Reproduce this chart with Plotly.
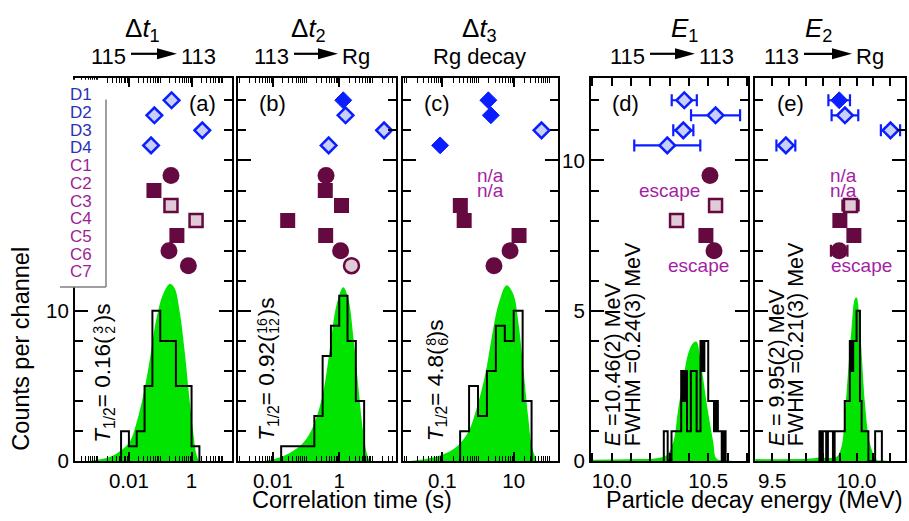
import math
import plotly.graph_objects as go

W, H = 909, 521          # reference picture size (all pixel positions below are in these units)
H_PAGE = 530             # page height used by the viewer; layout fractions are taken from H
FONT = "Liberation Sans, Arial, sans-serif"
BLUE = "#0a1eff"
BLUE_PAT = "#c8cff8"
MAROON = "#640a40"
MAROON_PAT = "#dfcad6"
GREEN = "#00e400"
LABEL_D = "#2a32b4"
LABEL_C = "#9b1e96"
NOTE = "#a41ea4"

# ---------------- data ----------------
chains = ["D1", "D2", "D3", "D4", "C1", "C2", "C3", "C4", "C5", "C6", "C7"]

# style codes: Dp patterned diamond, Ds solid diamond, Cc circle, Cs square,
# Csp patterned square, Ccp patterned circle, na -> "n/a" text, esc -> "escape" text
dt1_vals = [0.23, 0.065, 2.2, 0.051, 0.22, 0.063, 0.22, 1.39, 0.34, 0.19, 0.79]
dt1_sty = ["Dp", "Dp", "Dp", "Dp", "Cc", "Cs", "Csp", "Csp", "Cs", "Cc", "Cc"]

dt2_vals = [1.32, 1.55, 22.4, 0.48, 0.40, 0.38, 1.17, 0.028, 0.39, 1.10, 2.34]
dt2_sty = ["Ds", "Dp", "Dp", "Dp", "Cc", "Cs", "Cs", "Cs", "Cs", "Cc", "Ccp"]

dt3_vals = [1.95, 2.29, 60.0, 0.087, 2.29, 2.29, 0.32, 0.41, 14.1, 7.9, 2.8]
dt3_sty = ["Ds", "Ds", "Dp", "Ds", "na", "na", "Cs", "Cs", "Cs", "Cc", "Cc"]

e1_vals = [10.376, 10.538, 10.371, 10.288, 10.509, 10.30, 10.538, 10.336, 10.488, 10.53, 10.448]
e1_err = [0.065, 0.127, 0.052, 0.171, 0, 0, 0, 0, 0, 0, 0]
e1_sty = ["Dp", "Dp", "Dp", "Dp", "Cc", "esc", "Csp", "Csp", "Cs", "Cc", "esc"]

e2_vals = [9.897, 9.931, 10.201, 9.581, 9.925, 9.925, 9.964, 9.901, 9.984, 9.897, 10.03]
e2_err = [0.064, 0.079, 0.057, 0.056, 0, 0, 0.048, 0, 0, 0.049, 0]
e2_sty = ["Ds", "Dp", "Dp", "Dp", "na", "na", "Csp", "Cs", "Cs", "Cc", "esc"]

# correlation-time histograms (bin edges in log10 of seconds)
dt1_edges = [-2.25, -2.0, -1.75, -1.5, -1.25, -1.0, -0.75, -0.5, -0.25, 0.0, 0.25]
dt1_counts = [2, 1, 2, 5, 10, 8, 8, 5, 5, 1]
dt2_edges = [-1.75, -1.5, -1.25, -1.0, -0.75, -0.5, -0.25, 0.0, 0.25, 0.5, 0.75]
dt2_counts = [1, 1, 1, 1, 3, 7, 9, 11, 8, 4]
dt3_edges = [-0.5, -0.25, 0.0, 0.25, 0.5, 0.75, 1.0, 1.25, 1.5]
dt3_counts = [2, 5, 3, 6, 9, 8, 10, 4]

# fitted curves (log10 t, counts)
dt1_fit_x = [-3.30, -2.60, -2.25, -1.97, -1.75, -1.54, -1.33, -1.12, -0.91, -0.69, -0.54, -0.38, -0.22, -0.06, 0.05, 0.16, 0.24]
dt1_fit_y = [0.0, 0.29, 0.73, 1.3, 2.6, 4.4, 6.8, 9.5, 11.1, 11.8, 11.5, 9.96, 7.3, 4.0, 1.96, 0.4, 0.0]
dt2_fit_x = [-2.29, -1.73, -1.28, -0.98, -0.73, -0.48, -0.28, -0.08, 0.12, 0.27, 0.42, 0.57, 0.72, 0.82, 0.92]
dt2_fit_y = [0.0, 0.29, 0.84, 1.51, 2.62, 4.62, 7.51, 10.4, 11.56, 10.84, 8.4, 5.07, 1.96, 0.62, 0.0]
dt3_fit_x = [-1.95, -1.39, -0.92, -0.55, -0.27, -0.04, 0.20, 0.38, 0.57, 0.80, 0.99, 1.13, 1.27, 1.41, 1.50, 1.64]
dt3_fit_y = [0.0, 0.18, 0.51, 1.07, 1.96, 3.51, 5.73, 8.18, 10.4, 11.7, 11.1, 9.24, 6.13, 2.84, 1.07, 0.0]

# energy histograms, 10 keV channels
e1_start = 10.27
e1_counts = [1, 1, 0, 0, 1, 1, 1, 1, 1, 3, 2, 3, 1, 1, 3, 3, 3, 1, 1, 4, 3, 4, 4, 2, 2, 2, 1, 2, 1, 1, 0, 1]
e2_start = 9.78
e2_counts = [1, 0, 1, 1, 0, 1, 1, 1, 0, 1, 1, 1, 1, 1, 1, 2, 2, 2, 4, 3, 4, 4, 5, 5, 2, 1, 1, 1, 1, 0, 0, 0, 0, 1, 1, 1, 1]

e1_fit_x = [9.897, 10.129, 10.233, 10.285, 10.319, 10.345, 10.371, 10.397, 10.423, 10.440, 10.457, 10.474, 10.500, 10.526, 10.543, 10.595, 10.70]
e1_fit_y = [0.05, 0.07, 0.10, 0.20, 0.64, 1.75, 2.74, 3.60, 3.94, 3.97, 3.50, 2.74, 1.60, 0.64, 0.09, 0.02, 0.0]
e2_fit_x = [9.40, 9.704, 9.783, 9.881, 9.911, 9.931, 9.950, 9.970, 9.990, 10.000, 10.015, 10.030, 10.049, 10.069, 10.089, 10.118, 10.158, 10.20]
e2_fit_y = [0.07, 0.08, 0.12, 0.15, 0.50, 1.60, 3.00, 4.40, 5.40, 5.44, 4.90, 3.60, 1.96, 0.90, 0.40, 0.05, 0.02, 0.0]

# tick labels
time_labels = [{0.01: "0.01", 1: "1"}, {0.01: "0.01", 1: "1"}, {0.1: "0.1", 10: "10"}]
energy_labels = [{10.0: "10.0", 10.5: "10.5"}, {9.5: "9.5", 10.0: "10.0"}]

# ---------------- geometry ----------------
boxes = [(75, 232), (238, 396), (403, 558), (591, 748), (755, 905)]
Y_TOP, Y_BOT = 78, 463


def fx(px):
    return px / W


def fy(py):
    return 1 - py / H


fig = go.Figure()

STY = {
    "Dp": dict(symbol="diamond", size=12, color=BLUE_PAT, line=dict(color=BLUE, width=2.5)),
    "Ds": dict(symbol="diamond", size=13, color=BLUE, line=dict(color=BLUE, width=1)),
    "Cc": dict(symbol="circle", size=17, color=MAROON, line=dict(color=MAROON, width=0)),
    "Cs": dict(symbol="square", size=15, color=MAROON, line=dict(color=MAROON, width=0)),
    "Csp": dict(symbol="square", size=13, color=MAROON_PAT, line=dict(color=MAROON, width=2.5)),
    "Ccp": dict(symbol="circle", size=15, color=MAROON_PAT, line=dict(color=MAROON, width=2.5)),
}


def row_y(i, unit):
    base = 24 if unit == 1 else 12
    step = 1.0 if unit == 1 else 0.5
    k = i if i < 4 else i + 1
    return base - k * step


def add_events(vals, sty, err, xa, ya, unit, log):
    for code in STY:
        xs, ys, ex = [], [], []
        for i, (v, s) in enumerate(zip(vals, sty)):
            if s == code:
                xs.append(v)
                ys.append(row_y(i, unit))
                ex.append(err[i] if err else 0)
        if not xs:
            continue
        m = STY[code]
        tr = dict(x=xs, y=ys, mode="markers", xaxis=xa, yaxis=ya, showlegend=False,
                  marker=dict(symbol=m["symbol"], size=m["size"], color=m["color"], line=m["line"]))
        if err and any(e > 0 for e in ex):
            col = BLUE if code.startswith("D") else MAROON
            tr["error_x"] = dict(type="data", array=ex, visible=True, color=col, thickness=2.2, width=6)
        fig.add_trace(go.Scatter(**tr))
    for i, (v, s) in enumerate(zip(vals, sty)):
        if s in ("na", "esc"):
            fig.add_annotation(x=(math.log10(v) if log else v), y=row_y(i, unit), xref=xa, yref=ya,
                               text="n/a" if s == "na" else "escape", showarrow=False,
                               font=dict(size=19, color=NOTE, family=FONT))


def add_time_hist(edges, counts, fx_, fy_, xa, ya):
    fig.add_trace(go.Scatter(x=[10 ** v for v in fx_], y=fy_, mode="lines",
                             line=dict(width=0, color=GREEN, shape="spline"),
                             fill="tozeroy", fillcolor=GREEN, xaxis=xa, yaxis=ya, showlegend=False))
    xs = [10 ** edges[0]] + [10 ** e for e in edges]
    ys = [0] + list(counts) + [0]
    fig.add_trace(go.Scatter(x=xs, y=ys, mode="lines", line=dict(color="black", width=2, shape="hv"),
                             xaxis=xa, yaxis=ya, showlegend=False))


def add_energy_hist(start, counts, fx_, fy_, xa, ya):
    fig.add_trace(go.Scatter(x=fx_, y=fy_, mode="lines", line=dict(width=0, color=GREEN, shape="spline"),
                             fill="tozeroy", fillcolor=GREEN, xaxis=xa, yaxis=ya, showlegend=False))
    edges = [start + 0.01 * k for k in range(len(counts) + 1)]
    xs = [edges[0]] + edges
    ys = [0] + list(counts) + [0]
    fig.add_trace(go.Scatter(x=xs, y=ys, mode="lines", line=dict(color="black", width=2, shape="hv"),
                             xaxis=xa, yaxis=ya, showlegend=False))


add_time_hist(dt1_edges, dt1_counts, dt1_fit_x, dt1_fit_y, "x", "y")
add_time_hist(dt2_edges, dt2_counts, dt2_fit_x, dt2_fit_y, "x2", "y2")
add_time_hist(dt3_edges, dt3_counts, dt3_fit_x, dt3_fit_y, "x3", "y3")
add_energy_hist(e1_start, e1_counts, e1_fit_x, e1_fit_y, "x4", "y4")
add_energy_hist(e2_start, e2_counts, e2_fit_x, e2_fit_y, "x5", "y5")

add_events(dt1_vals, dt1_sty, None, "x", "y", 1, True)
add_events(dt2_vals, dt2_sty, None, "x2", "y2", 1, True)
add_events(dt3_vals, dt3_sty, None, "x3", "y3", 1, True)
add_events(e1_vals, e1_sty, e1_err, "x4", "y4", 0.5, False)
add_events(e2_vals, e2_sty, e2_err, "x5", "y5", 0.5, False)

# ---------------- axes ----------------
ranges = [[-3.72, 1.29], [-3.05, 1.71], [-2.1, 2.24], [9.893, 10.706], [9.398, 10.287]]

layout = dict(width=W, height=H_PAGE, margin=dict(l=0, r=0, t=0, b=0), paper_bgcolor="white",
              plot_bgcolor="rgba(0,0,0,0)", font=dict(family=FONT, color="black"), showlegend=False)
ydom = [fy(Y_BOT), fy(Y_TOP)]
TF = dict(size=20.5, color="black", family=FONT)
for p in range(5):
    sfx = "" if p == 0 else str(p + 1)
    dom = [fx(boxes[p][0]), fx(boxes[p][1])]
    ax = dict(domain=dom, range=ranges[p], anchor="y" + sfx, showline=True, linecolor="black", linewidth=2,
              mirror="ticks", ticks="inside", tickcolor="black", tickwidth=1.5, showgrid=False, zeroline=False,
              tickfont=TF)
    if p < 3:
        labs = time_labels[p]
        major = sorted(labs)
        minor_vals = [m * 10.0 ** k for k in range(-4, 4) for m in range(1, 10)
                      if not any(abs(m * 10.0 ** k - v) < 1e-12 for v in major)]
        ax.update(type="log", tickmode="array", tickvals=major, ticktext=[labs[v] for v in major], ticklen=9,
                  minor=dict(tickmode="array", tickvals=minor_vals, ticks="inside", ticklen=5,
                             tickwidth=1.2, tickcolor="black", showgrid=False))
    else:
        labs = energy_labels[p - 3]
        major = sorted(labs)
        minor_vals = [round(9.0 + 0.1 * k, 1) for k in range(0, 21)]
        minor_vals = [v for v in minor_vals if v not in major]
        ax.update(tickmode="array", tickvals=major, ticktext=[labs[v] for v in major], ticklen=8,
                  minor=dict(tickmode="array", tickvals=minor_vals, ticks="inside", ticklen=8,
                             tickwidth=1.5, tickcolor="black", showgrid=False))
    layout["xaxis" + sfx] = ax
    ay = dict(domain=ydom, anchor="x" + sfx, showline=True, linecolor="black", linewidth=2, mirror="ticks",
              ticks="inside", tickcolor="black", tickwidth=1.5, ticklen=13, showgrid=False, zeroline=False,
              tickfont=TF)
    if p < 3:
        ay.update(range=[0, 25.5], tickmode="array", tickvals=[0, 10] if p == 0 else [0, 10, 20],
                  showticklabels=(p == 0),
                  minor=dict(tickmode="array",
                             tickvals=[2, 4, 6, 8, 12, 14, 16, 18, 20, 22, 24] if p == 0 else
                             [2, 4, 6, 8, 12, 14, 16, 18, 22, 24],
                             ticks="inside", ticklen=8, tickwidth=1.5, tickcolor="black"))
        if p == 0:
            ay["ticktext"] = ["0", "10"]
    else:
        ay.update(range=[0, 12.75], tickmode="array", tickvals=[0, 5, 10], showticklabels=(p == 3),
                  minor=dict(tickmode="array", tickvals=[1, 2, 3, 4, 6, 7, 8, 9, 11, 12],
                             ticks="inside", ticklen=8, tickwidth=1.5, tickcolor="black"))
        if p == 3:
            ay["ticktext"] = ["0", "5", "10"]
    layout["yaxis" + sfx] = ay
fig.update_layout(**layout)


# ---------------- annotations ----------------
def ann(x, y, text, size, color="black", xanchor="center", yanchor="middle", angle=0):
    fig.add_annotation(x=fx(x), y=fy(y), xref="paper", yref="paper", text=text, showarrow=False,
                       xanchor=xanchor, yanchor=yanchor, textangle=angle,
                       font=dict(size=size, color=color, family=FONT))


# chain label box
fig.add_shape(type="rect", xref="paper", yref="paper", x0=fx(60), x1=fx(106), y0=fy(288), y1=fy(80),
              fillcolor="white", line=dict(width=0), layer="above")
fig.add_shape(type="line", xref="paper", yref="paper", x0=fx(106), x1=fx(106), y0=fy(288), y1=fy(100),
              line=dict(color="#808080", width=1.5), layer="above")
fig.add_shape(type="line", xref="paper", yref="paper", x0=fx(60), x1=fx(106), y0=fy(288), y1=fy(288),
              line=dict(color="#808080", width=1.5), layer="above")
for i, c in enumerate(chains):
    ann(81, 95 + i * 17.8, c, 17, LABEL_D if c.startswith("D") else LABEL_C)

# panel letters
for t, x in zip(["(a)", "(b)", "(c)", "(d)", "(e)"], [202, 272, 437, 625, 790]):
    ann(x, 104, t, 22)

# titles
for t, x in zip(["Δ<i>t</i><sub>1</sub>", "Δ<i>t</i><sub>2</sub>", "Δ<i>t</i><sub>3</sub>",
                 "<i>E</i><sub>1</sub>", "<i>E</i><sub>2</sub>"], [142, 308, 480, 684, 818]):
    ann(x, 30, t, 26)


def reaction(x_left, x_arrow0, x_arrow1, x_right, left, right):
    ann(x_left, 57, left, 22, xanchor="right")
    ann(x_right, 57, right, 22, xanchor="left")
    fig.add_shape(type="line", xref="paper", yref="paper", x0=fx(x_arrow0), x1=fx(x_arrow1 - 14),
                  y0=fy(54), y1=fy(54), line=dict(color="black", width=2.2))
    fig.add_shape(type="path", xref="paper", yref="paper",
                  path=f"M {fx(x_arrow1 - 20)},{fy(48.5)} L {fx(x_arrow1)},{fy(54)} L {fx(x_arrow1 - 20)},{fy(59.5)} Z",
                  fillcolor="black", line=dict(width=0))


reaction(128, 131, 177, 179, "115", "113")
reaction(291, 294, 338, 340, "113", "Rg")
ann(480, 57, "Rg decay", 22)
reaction(647, 650, 695, 697, "115", "113")
reaction(801, 804, 852, 854, "113", "Rg")


# half-life texts (rotated, reading upwards)
def halflife(xc, ybot, ytop, val, up, dn, ydig):
    ann(xc, ybot, f"<i>T</i><sub>1/2</sub>= {val}(", 22.5, yanchor="bottom", angle=-90)
    ann(xc - 2, ytop, ")s", 22.5, yanchor="top", angle=-90)
    ann(xc - 6, ydig, up, 14, angle=-90)
    ann(xc + 6, ydig, dn, 14, angle=-90)


halflife(104, 447, 303, "0.16", "3", "2", 331)
halflife(268, 445, 297, "0.92", "16", "12", 327)
halflife(437, 445, 319, "4.8", "8", "6", 343)

ann(613, 450, "<i>E</i> =10.46(2) MeV", 21.5, yanchor="bottom", angle=-90)
ann(633, 450, "FWHM =0.24(3) MeV", 21.5, yanchor="bottom", angle=-90)
ann(777, 450, "<i>E</i> = 9.95(2) MeV", 21.5, yanchor="bottom", angle=-90)
ann(796, 450, "FWHM =0.21(3) MeV", 21.5, yanchor="bottom", angle=-90)

# axis titles
ann(352, 502, "Correlation time (s)", 23.5)
ann(754, 502, "Particle decay energy (MeV)", 23.5)
ann(21, 350, "Counts per channel", 23.5, angle=-90)

PAGE_CSS = ("var s='margin:0;padding:0;overflow:hidden;';"
            "document.documentElement.style.cssText=s;document.body.style.cssText=s;")
fig.write_html("out.html", config={"displayModeBar": False}, post_script=PAGE_CSS)
